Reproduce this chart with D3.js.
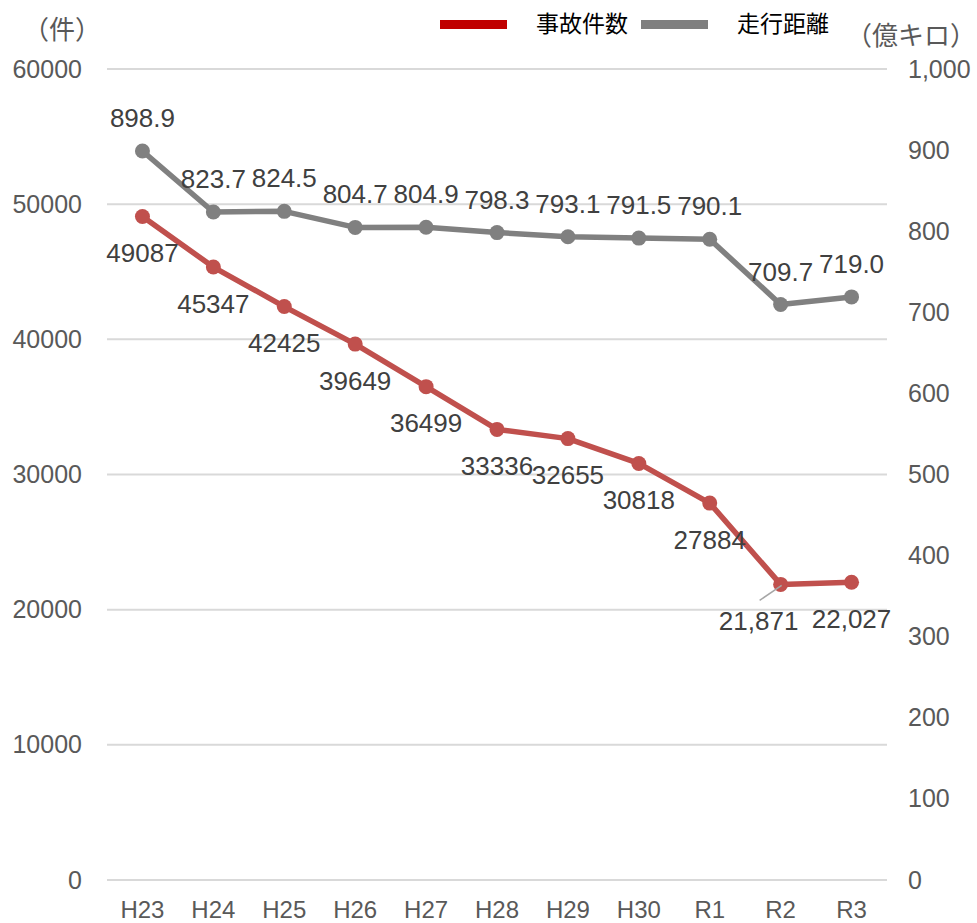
<!DOCTYPE html>
<html>
<head>
<meta charset="utf-8">
<script src="https://cdn.jsdelivr.net/npm/d3@7"></script>
<style>
  body { margin: 0; background: #fff; }
  text { font-family: Arial, "Liberation Sans", "Noto Sans CJK JP", sans-serif; }
</style>
</head>
<body>
<div id="chart"></div>
<script>
// data
const years = ["H23", "H24", "H25", "H26", "H27", "H28", "H29", "H30", "R1", "R2", "R3"];
const accidents = [49087, 45347, 42425, 39649, 36499, 33336, 32655, 30818, 27884, 21871, 22027];
const accidentLabels = ["49087", "45347", "42425", "39649", "36499", "33336", "32655", "30818", "27884", "21,871", "22,027"];
const distance = [898.9, 823.7, 824.5, 804.7, 804.9, 798.3, 793.1, 791.5, 790.1, 709.7, 719.0];
const leftTicks = [0, 10000, 20000, 30000, 40000, 50000, 60000];
const rightTicks = [0, 100, 200, 300, 400, 500, 600, 700, 800, 900, 1000];

const width = 977, height = 923;
const margin = { top: 69, right: 90, bottom: 43, left: 107 };

const svg = d3.select('#chart').append('svg')
  .attr('width', width)
  .attr('height', height);

const x = d3.scaleBand()
  .domain(years)
  .range([margin.left, width - margin.right]);

const yL = d3.scaleLinear()
  .domain([0, 60000])
  .range([height - margin.bottom, margin.top]);

const yR = d3.scaleLinear()
  .domain([0, 1000])
  .range([height - margin.bottom, margin.top]);

const cx = d => x(d) + x.bandwidth() / 2;

// gridlines
svg.append('g')
  .selectAll('line')
  .data(leftTicks)
  .enter()
  .append('line')
  .attr('x1', margin.left)
  .attr('x2', width - margin.right)
  .attr('y1', d => yL(d))
  .attr('y2', d => yL(d))
  .attr('stroke', '#d9d9d9')
  .attr('stroke-width', 2);

// left axis
const leftAxis = svg.append('g')
  .attr('transform', `translate(85,0)`)
  .call(d3.axisLeft(yL).tickValues(leftTicks).tickSize(0).tickPadding(3).tickFormat(d3.format('d')));
leftAxis.select('.domain').remove();
leftAxis.selectAll('text')
  .attr('fill', '#595959')
  .attr('font-size', '25px');

// right axis
const rightAxis = svg.append('g')
  .attr('transform', `translate(905,0)`)
  .call(d3.axisRight(yR).tickValues(rightTicks).tickSize(0).tickPadding(3).tickFormat(d3.format(',')));
rightAxis.select('.domain').remove();
rightAxis.selectAll('text')
  .attr('fill', '#595959')
  .attr('font-size', '25px');

// bottom axis
const bottomAxis = svg.append('g')
  .attr('transform', `translate(0,${height - margin.bottom})`)
  .call(d3.axisBottom(x).tickSize(0));
bottomAxis.select('.domain').remove();
bottomAxis.selectAll('text')
  .attr('fill', '#595959')
  .attr('font-size', '24px')
  .attr('y', 30)
  .attr('dy', '0.35em');

// unit labels
svg.append('text')
  .attr('x', 62).attr('y', 30)
  .attr('dy', '0.35em')
  .attr('text-anchor', 'middle')
  .attr('fill', '#595959')
  .attr('font-size', '26px')
  .style('font-family', '"Noto Sans CJK JP", sans-serif')
  .text('（件）');

svg.append('text')
  .attr('x', 976).attr('y', 36)
  .attr('dy', '0.35em')
  .attr('text-anchor', 'end')
  .attr('fill', '#595959')
  .attr('font-size', '26px')
  .style('font-family', '"Noto Sans CJK JP", sans-serif')
  .text('（億キロ）');

// lines
const lineL = d3.line().x((d, i) => cx(years[i])).y(d => yL(d));
const lineR = d3.line().x((d, i) => cx(years[i])).y(d => yR(d));

svg.append('path')
  .datum(distance)
  .attr('d', lineR)
  .attr('fill', 'none')
  .attr('stroke', '#808080')
  .attr('stroke-width', 5.5)
  .attr('stroke-linejoin', 'round');

svg.selectAll('.dist-dot')
  .data(distance)
  .enter()
  .append('circle')
  .attr('class', 'dist-dot')
  .attr('cx', (d, i) => cx(years[i]))
  .attr('cy', d => yR(d))
  .attr('r', 7.5)
  .attr('fill', '#808080');

svg.append('path')
  .datum(accidents)
  .attr('d', lineL)
  .attr('fill', 'none')
  .attr('stroke', '#c0504d')
  .attr('stroke-width', 5.5)
  .attr('stroke-linejoin', 'round');

svg.selectAll('.acc-dot')
  .data(accidents)
  .enter()
  .append('circle')
  .attr('class', 'acc-dot')
  .attr('cx', (d, i) => cx(years[i]))
  .attr('cy', d => yL(d))
  .attr('r', 7.5)
  .attr('fill', '#c0504d');

// leader line for R2 label
const r2 = years.indexOf('R2');
svg.append('line')
  .attr('x1', cx(years[r2]) - 21)
  .attr('y1', yL(accidents[r2]) + 16)
  .attr('x2', cx(years[r2]) + 1)
  .attr('y2', yL(accidents[r2]) + 1)
  .attr('stroke', '#a6a6a6')
  .attr('stroke-width', 1.5);

// data labels - distance (above)
svg.selectAll('.dist-label')
  .data(distance)
  .enter()
  .append('text')
  .attr('x', (d, i) => cx(years[i]))
  .attr('y', d => yR(d) - 33)
  .attr('dy', '0.35em')
  .attr('text-anchor', 'middle')
  .attr('fill', '#404040')
  .attr('font-size', '26px')
  .text(d => d.toFixed(1));

// data labels - accidents (below)
const accDx = [0, 0, 0, 0, 0, 0, 0, 0, 0, -22, 0];
svg.selectAll('.acc-label')
  .data(accidents)
  .enter()
  .append('text')
  .attr('x', (d, i) => cx(years[i]) + accDx[i])
  .attr('y', d => yL(d) + 36.5)
  .attr('dy', '0.35em')
  .attr('text-anchor', 'middle')
  .attr('fill', '#404040')
  .attr('font-size', '26px')
  .text((d, i) => accidentLabels[i]);

// legend
const legend = [
  { name: '事故件数', color: '#c00000', x: 440 },
  { name: '走行距離', color: '#7f7f7f', x: 641 }
];
const lg = svg.append('g');
lg.selectAll('rect')
  .data(legend)
  .enter()
  .append('rect')
  .attr('x', d => d.x)
  .attr('y', 20)
  .attr('width', 67)
  .attr('height', 9)
  .attr('fill', d => d.color);
lg.selectAll('text')
  .data(legend)
  .enter()
  .append('text')
  .attr('x', d => d.x + 96)
  .attr('y', 24)
  .attr('dy', '0.35em')
  .attr('fill', '#000')
  .attr('font-size', '23px')
  .style('font-family', '"Noto Sans CJK JP", sans-serif')
  .text(d => d.name);
</script>
</body>
</html>
